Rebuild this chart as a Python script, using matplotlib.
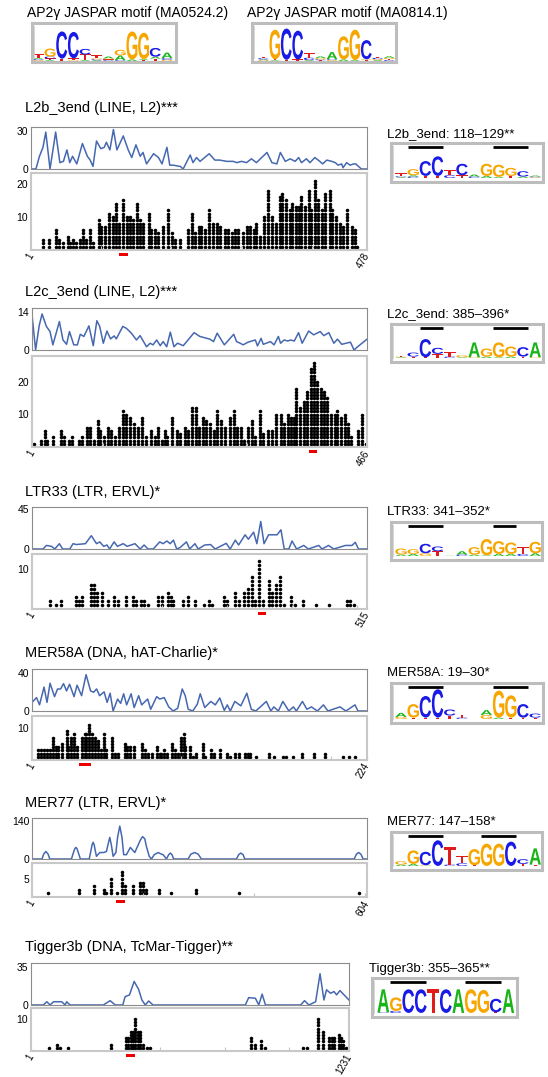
import numpy as np
import matplotlib
matplotlib.use("Agg")
import matplotlib.pyplot as plt
from matplotlib.patches import Rectangle, PathPatch
from matplotlib.textpath import TextPath
from matplotlib.font_manager import FontProperties
import matplotlib.transforms as mtransforms

plt.rcParams['font.family'] = ['Liberation Sans', 'DejaVu Sans']

# ---------------- data ----------------
lengths = [478, 466, 515, 224, 604, 1231]
titles = ["L2b_3end (LINE, L2)***", "L2c_3end (LINE, L2)***", "LTR33 (LTR, ERVL)*",
          "MER58A (DNA, hAT-Charlie)*", "MER77 (LTR, ERVL)*", "Tigger3b (DNA, TcMar-Tigger)**"]
logo_titles = ["L2b_3end: 118\u2013129**", "L2c_3end: 385\u2013396*", "LTR33: 341\u2013352*",
               "MER58A: 19\u201330*", "MER77: 147\u2013158*", "Tigger3b: 355\u2013365**"]
line_ticks = [30, 14, 45, 40, 140, 35]
dot_ticks = [[10, 20], [10, 20], [10], [10], [5], [10]]

# hit positions along the consensus and number of hits per position
l2b_pos = [18, 26, 36, 41, 47, 53, 56, 60, 65, 70, 75, 79, 85, 89, 97, 101, 106, 112, 117, 122,
           126, 132, 137, 142, 146, 151, 156, 160, 168, 172, 177, 182, 188, 196, 201, 205, 213, 224, 229, 234,
           239, 243, 248, 254, 259, 265, 269, 276, 281, 286, 291, 295, 302, 307, 312, 317, 321, 326, 332, 338,
           343, 349, 354, 358, 363, 368, 372, 377, 382, 385, 390, 395, 399, 404, 409, 414, 418, 425, 429, 434,
           439, 444, 449, 456, 461, 464]
l2b_cnt = [3, 3, 6, 3, 2, 4, 2, 3, 2, 3, 6, 3, 6, 2, 9, 7, 7, 11, 10, 14,
           8, 15, 10, 10, 9, 14, 9, 8, 11, 6, 6, 5, 7, 12, 5, 3, 3, 6, 11, 5,
           7, 7, 6, 12, 8, 8, 7, 6, 6, 5, 6, 6, 5, 7, 7, 6, 8, 4, 10, 18,
           10, 8, 16, 17, 15, 12, 14, 13, 13, 16, 13, 18, 12, 21, 15, 12, 17, 18, 12, 10,
           8, 7, 12, 7, 6, 1]
l2c_pos = [4, 13, 19, 22, 30, 41, 46, 52, 57, 66, 71, 77, 82, 87, 92, 96, 101, 107, 111, 116,
           122, 127, 132, 137, 143, 148, 154, 159, 166, 172, 176, 182, 185, 189, 195, 202, 206, 213, 218, 223,
           229, 233, 239, 243, 248, 253, 258, 263, 269, 276, 281, 286, 291, 295, 301, 306, 311, 317, 322, 328,
           334, 340, 346, 351, 356, 360, 364, 368, 373, 378, 383, 388, 393, 397, 402, 407, 411, 416, 421, 425,
           430, 435, 439, 444, 453, 459, 464]
l2c_cnt = [1, 2, 5, 2, 3, 5, 3, 2, 3, 2, 3, 6, 6, 2, 8, 5, 3, 6, 5, 3,
           6, 11, 10, 9, 7, 6, 9, 3, 5, 3, 6, 2, 5, 3, 9, 5, 4, 6, 5, 12,
           12, 6, 9, 8, 7, 5, 11, 8, 6, 9, 11, 6, 6, 2, 6, 8, 3, 11, 4, 5,
           5, 10, 10, 7, 10, 9, 9, 18, 12, 14, 17, 24, 26, 20, 18, 17, 15, 10, 10, 11,
           9, 10, 7, 3, 5, 10, 1]
ltr33_pos = [29, 38, 46, 68, 73, 78, 91, 96, 101, 108, 118, 127, 133, 145, 156, 161, 169, 173, 179, 195,
             200, 209, 214, 218, 232, 241, 251, 265, 272, 277, 295, 300, 313, 318, 326, 332, 338, 343, 350, 356,
             364, 369, 376, 382, 388, 398, 405, 417, 437, 456, 484, 489, 495]
ltr33_cnt = [2, 1, 2, 3, 2, 3, 6, 6, 4, 4, 2, 3, 2, 3, 3, 2, 2, 2, 1, 3,
             3, 4, 3, 2, 2, 3, 2, 1, 2, 1, 3, 2, 4, 2, 4, 5, 8, 2, 12, 2,
             7, 4, 6, 8, 1, 3, 1, 2, 1, 1, 2, 2, 1]
mer58a_pos = [5, 7, 9, 11, 13, 15, 17, 18, 21, 24, 25, 27, 29, 31, 34, 36, 37, 39, 41, 43,
              45, 47, 49, 50, 54, 56, 58, 63, 64, 66, 69, 74, 76, 78, 81, 84, 86, 87, 89, 91,
              94, 96, 98, 100, 102, 103, 106, 108, 110, 115, 116, 120, 122, 126, 131, 133, 136, 139, 143, 145,
              146, 150, 159, 162, 168, 170, 175, 181, 189, 196, 208, 212, 216]
mer58a_cnt = [3, 3, 3, 3, 3, 7, 4, 4, 5, 9, 4, 7, 8, 4, 7, 8, 8, 11, 8, 7,
              6, 3, 8, 3, 7, 2, 2, 5, 4, 4, 4, 5, 3, 2, 2, 4, 2, 2, 3, 2,
              5, 3, 2, 7, 8, 4, 4, 1, 2, 5, 1, 3, 2, 3, 2, 1, 2, 2, 2, 2,
              2, 1, 2, 1, 1, 1, 1, 2, 2, 2, 1, 1, 1]
mer77_pos = [29, 85, 112, 130, 135, 144, 154, 163, 168, 183, 195, 201, 207, 230, 251, 296, 374, 589]
mer77_cnt = [1, 2, 3, 2, 1, 5, 1, 7, 3, 3, 4, 4, 2, 2, 1, 2, 1, 1]
tig_pos = [72, 100, 113, 146, 310, 368, 378, 387, 396, 404, 413, 421, 433, 449, 462, 852, 869, 889, 905, 1054,
           1069, 1112, 1131, 1153, 1164, 1173, 1192, 1201, 1209, 1221]
tig_cnt = [1, 2, 1, 1, 2, 4, 4, 6, 6, 10, 6, 6, 2, 1, 1, 4, 2, 3, 1, 1,
           1, 10, 6, 4, 4, 4, 5, 4, 3, 1]

# smoothed conservation profile (position, value)
l2b_lx = [1, 8, 13, 18, 22, 28, 33, 36, 42, 47, 52, 56, 60, 66, 74, 81, 85, 89, 94, 100,
          105, 108, 113, 118, 123, 132, 139, 144, 150, 156, 160, 165, 175, 182, 187, 194, 198, 203, 213, 217,
          227, 231, 236, 241, 254, 262, 269, 279, 288, 293, 300, 307, 314, 321, 336, 343, 350, 355, 362, 369,
          376, 381, 385, 392, 397, 404, 411, 415, 421, 428, 433, 437, 442, 444, 449, 454, 459, 462, 466, 470, 478]
l2b_ly = [0, 0, 10, 17, 29, 0, 18, 29, 5, 6, 15, 5, 10, 4, 20, 10, 7, 2, 22, 16,
          17, 21, 15, 31, 15, 26, 15, 9, 19, 10, 13, 4, 12, 9, 4, 17, 3, 3, 2, 0,
          11, 5, 9, 6, 12, 7, 7, 6, 6, 5, 6, 5, 8, 5, 13, 5, 4, 13, 6, 8,
          6, 9, 5, 8, 5, 9, 6, 4, 7, 6, 5, 3, 4, 1, 5, 3, 4, 4, 2, 0, 0]
l2c_lx = [1, 6, 11, 15, 21, 26, 30, 39, 44, 49, 53, 59, 64, 68, 73, 80, 86, 91, 95, 100,
          105, 110, 115, 118, 127, 132, 139, 146, 151, 160, 165, 169, 174, 179, 183, 188, 193, 198, 203, 211,
          226, 234, 248, 253, 258, 268, 281, 285, 290, 294, 301, 311, 314, 319, 322, 332, 337, 343, 346, 351,
          356, 360, 365, 371, 376, 385, 392, 401, 406, 413, 420, 425, 431, 443, 448, 453, 466]
l2c_ly = [13, 0, 9, 13.3, 8.7, 6.8, 1.9, 10.5, 3.7, 2.1, 6.8, 1.9, 1.9, 5.8, 5, 8.9, 1.6, 10.8, 8.7, 2.5,
          7, 4.1, 5.2, 4.1, 8.7, 8, 6.2, 3.7, 5.3, 1.2, 2.5, 1.9, 3.7, 1.6, 3.1, 1.2, 6.6, 1.2, 2.5, 1.6,
          6.4, 5, 4, 3.1, 6.2, 1.9, 5.8, 3.1, 2.5, 1.9, 2.9, 3.7, 1.5, 4.3, 2.1, 3.1, 1.9, 5, 2.5, 3.7,
          3.3, 3.7, 3.3, 6.4, 2.5, 7, 5.6, 6.8, 5.3, 6.4, 2.5, 4, 2.1, 2.9, 0, 1.2, 4]
ltr33_lx = [1, 18, 23, 31, 36, 43, 48, 59, 64, 69, 83, 92, 100, 105, 111, 116, 120, 127, 132, 141,
            147, 159, 167, 173, 179, 187, 197, 202, 208, 213, 218, 223, 228, 238, 243, 251, 256, 266, 275, 282,
            290, 299, 305, 313, 318, 328, 333, 341, 346, 352, 357, 364, 377, 383, 388, 395, 400, 407, 418, 425,
            441, 446, 456, 464, 482, 492, 497, 502, 515]
ltr33_ly = [0, 0, 4, 3, 0, 6, 0, 0, 6, 5, 6, 15, 6, 8, 3, 4.5, 0, 8, 3, 6,
            3, 6, 0, 4.5, 0, 0, 8, 6, 9, 6, 10, 0, 1.5, 8, 0, 6, 0, 4.5, 5, 0,
            3, 6.4, 0, 10, 4.5, 16, 11, 19, 6, 31, 6, 16, 16, 21.6, 0, 0, 9, 0, 4, 0,
            4, 0, 4, 0, 4, 4, 7.5, 0, 0]
mer58a_lx = [1, 4, 6, 9, 11, 13, 16, 18, 20, 22, 24, 26, 29, 31, 34, 37, 40, 42, 44, 46,
             49, 51, 53, 55, 58, 60, 62, 64, 67, 69, 72, 74, 78, 80, 84, 86, 89, 92, 95, 98,
             101, 103, 105, 108, 111, 113, 116, 120, 123, 126, 129, 131, 133, 136, 140, 144, 147, 150, 157, 160,
             162, 165, 168, 172, 175, 177, 181, 184, 187, 191, 195, 198, 206, 210, 216, 218, 224]
mer58a_ly = [9, 14, 6.4, 25, 9, 29, 15, 23, 23, 28.6, 21, 28, 15, 27, 16, 38, 21, 19.6, 23, 16,
             20, 9, 18.6, 0, 12.5, 8, 18, 6.4, 18, 3.6, 16, 6.4, 12.5, 1.8, 15, 12.5, 14, 4.3, 0, 2.9,
             23, 16, 1.8, 0, 7, 18, 3.6, 10, 6.4, 13.6, 0.7, 6.4, 0, 10, 5.4, 18.6, 1.8, 0, 10, 0,
             4.3, 0, 10, 0, 4.3, 0, 10, 1.8, 4.3, 0, 6.4, 0, 4.3, 0, 6.4, 0, 0]
mer77_lx = [1, 19, 22, 26, 30, 33, 72, 75, 78, 80, 82, 85, 88, 104, 107, 109, 111, 113, 115, 117,
            123, 130, 135, 138, 141, 144, 147, 152, 155, 159, 163, 166, 171, 178, 186, 196, 200, 204, 207, 212,
            216, 221, 228, 234, 237, 243, 247, 250, 253, 256, 282, 287, 294, 300, 306, 369, 373, 377, 381, 384,
            581, 585, 589, 593, 597, 604]
mer77_ly = [0, 0, 18, 28, 18, 0, 0, 20, 38, 43, 38, 20, 0, 0, 30, 52, 62, 52, 30, 10,
            24, 24, 28, 55, 80, 50, 10, 24, 80, 122, 80, 16, 16, 43, 24, 70, 83, 75, 46, 10,
            0, 16, 24, 18, 16, 0, 16, 22, 16, 0, 0, 18, 24, 18, 0, 0, 16, 22, 16, 0,
            0, 18, 24, 18, 0, 0]
tig_lx = [1, 49, 62, 75, 88, 120, 133, 139, 152, 281, 307, 327, 356, 365, 382, 400, 417, 430, 443, 456,
          473, 830, 843, 869, 882, 895, 908, 1044, 1059, 1076, 1102, 1119, 1134, 1144, 1160, 1173, 1183, 1196, 1212, 1231]
tig_ly = [0, 0, 3, 0, 3, 3, 0, 3, 0, 0, 4, 0, 0, 7.7, 9.3, 21.7, 14.5, 4.6, 0, 3.7,
          0, 0, 6.8, 6.2, 0, 10, 0, 0, 4, 0, 3, 28.8, 4.6, 14, 10.8, 12.4, 9.3, 13.3, 9.3, 4.6]

# red marker under the dot plots (start, end along consensus)
site_marks = [(126, 138), (385, 396), (347, 360), (32, 40), (152, 169), (368, 404)]

# sequence logos: each column stacked bottom -> top as (base, height)
logo_ma0524 = [[('G', .06), ('C', .06), ('A', .06), ('T', .25)],
               [('A', .06), ('T', .1), ('C', .12), ('G', .5)],
               [('T', .15), ('C', 1.7)],
               [('G', .05), ('T', .12), ('C', 1.65)],
               [('A', .06), ('T', .35), ('C', .35)],
               [('A', .05), ('C', .06), ('G', .06), ('T', .2)],
               [('C', .05), ('T', .05), ('G', .06), ('A', .12)],
               [('C', .05), ('A', .3), ('G', .35)],
               [('A', .1), ('G', 1.75)],
               [('T', .06), ('A', .06), ('G', 1.65)],
               [('T', .15), ('A', .12), ('C', .55)],
               [('G', .08), ('C', .1), ('A', .35)]]
logo_ma0814 = [[('G', .05), ('A', .05), ('C', .08), ('T', .1)],
               [('A', .05), ('T', .06), ('G', 1.85)],
               [('T', .08), ('C', 1.95)],
               [('T', .1), ('C', 1.8)],
               [('A', .06), ('C', .15), ('T', .3)],
               [('T', .05), ('C', .06), ('G', .08), ('A', .1)],
               [('G', .06), ('C', .05), ('A', .45)],
               [('A', .1), ('G', 1.45)],
               [('A', .06), ('G', 1.9)],
               [('T', .06), ('G', .05), ('C', 1.2)],
               [('A', .06), ('G', .06), ('C', .08), ('T', .08)],
               [('C', .06), ('T', .06), ('G', .08), ('A', .1)]]
logo_l2b = [[('A', .06), ('C', .06), ('T', .25)],
            [('C', .1), ('A', .1), ('G', .45)],
            [('T', .15), ('C', 1.1)],
            [('T', .15), ('C', 1.45)],
            [('C', .2), ('T', .4)],
            [('T', .2), ('C', .85)],
            [('C', .1), ('A', .15)],
            [('A', .15), ('G', .9)],
            [('A', .08), ('G', .9)],
            [('T', .15), ('G', .6)],
            [('A', .1), ('C', .4)],
            [('G', .05), ('C', .05), ('A', .08)]]
logo_l2c = [[('A', .05), ('G', .05), ('T', .08)],
            [('T', .1), ('C', .3)],
            [('T', .05), ('C', 1.35)],
            [('T', .3), ('C', .45)],
            [('C', .1), ('T', .35)],
            [('A', .05), ('G', .15)],
            [('G', .05), ('A', 1.1)],
            [('A', .1), ('G', .6)],
            [('A', .05), ('G', 1.1)],
            [('A', .1), ('G', .75)],
            [('T', .1), ('C', .7)],
            [('G', .05), ('A', 1.1)]]
logo_ltr33 = [[('A', .1), ('G', .45)],
              [('A', .15), ('G', .35)],
              [('G', .2), ('C', .7)],
              [('T', .35), ('C', .35)],
              [('A', .02)],
              [('C', .1), ('A', .25)],
              [('A', .1), ('G', .55)],
              [('A', .05), ('G', 1.2)],
              [('A', .15), ('G', .95)],
              [('A', .15), ('G', .85)],
              [('C', .15), ('T', .55)],
              [('A', .2), ('G', .85)]]
logo_mer58a = [[('G', .15), ('A', .3)],
               [('T', .1), ('G', 1.0)],
               [('T', .1), ('C', 1.6)],
               [('T', .1), ('C', 2.1)],
               [('T', .25), ('C', .45)],
               [('C', .1), ('T', .2)],
               [],
               [('G', .3), ('A', .35)],
               [('A', .1), ('G', 2.0)],
               [('T', .1), ('G', 1.65)],
               [('T', .1), ('C', 1.0)],
               [('T', .1), ('C', .3)]]
logo_mer77 = [[('A', .1), ('G', .25)],
              [('A', .15), ('G', 1.0)],
              [('G', .05), ('C', 1.0)],
              [('C', 1.9)],
              [('C', .1), ('T', 1.3)],
              [('C', .2), ('T', .55)],
              [('T', .05), ('G', 1.2)],
              [('G', 1.65)],
              [('G', 1.65)],
              [('C', 1.8)],
              [('T', .15), ('C', .35)],
              [('T', .1), ('A', 1.2)]]
logo_tig = [[('C', .05), ('A', 1.7)],
            [('C', .15), ('G', 1.0)],
            [('C', 1.75)],
            [('C', 1.75)],
            [('T', 1.75)],
            [('C', 1.75)],
            [('A', 1.75)],
            [('G', 1.75)],
            [('G', 1.7)],
            [('T', .05), ('C', 1.0)],
            [('A', 1.75)]]
logo_bars = [[(2, 4), (9, 11)], [(3, 4), (9, 11)], [(2, 4), (9, 10)],
             [(2, 4), (9, 11)], [(2, 4), (8, 10)], [(2, 4), (8, 10)]]

# ---------------- drawing ----------------
W, H = 548, 1077
fig = plt.figure(figsize=(W / 100, H / 100), dpi=100)

BASE_COLORS = {'A': '#19b419', 'C': '#1a1ae6', 'G': '#f7a600', 'T': '#e01b1b'}
LOGO_FONT = FontProperties(family='Liberation Sans', weight='bold')
GLYPHS = {b: TextPath((0, 0), b, size=1, prop=LOGO_FONT) for b in 'ACGT'}
LINE_COLOR = '#4668b0'


def rect(x0, y0, x1, y1):
    return [x0 / W, 1 - y1 / H, (x1 - x0) / W, (y1 - y0) / H]


def draw_letter(ax, base, x, y, w, h):
    path = GLYPHS[base]
    ext = path.get_extents()
    tr = (mtransforms.Affine2D().translate(-ext.x0, -ext.y0)
          .scale(w / ext.width, h / ext.height).translate(x - w / 2, y))
    ax.add_patch(PathPatch(tr.transform_path(path), fc=BASE_COLORS[base], ec='none'))


def draw_logo(box, cols, xlim, ylim, bars=(), bar_y=None):
    ax = fig.add_axes(rect(*box))
    for i, col in enumerate(cols, start=1):
        y = 0
        for base, h in col:
            draw_letter(ax, base, i, y, 0.94, h)
            y += h
    for a, b in bars:
        ax.plot([a - 0.45, b + 0.45], [bar_y, bar_y], color='k', lw=2, solid_capstyle='butt')
    ax.plot([0.015, 0.015], [0.1, 0.92], transform=ax.transAxes, color='#cfcfcf', lw=0.6)
    ax.set_xlim(*xlim)
    ax.set_ylim(*ylim)
    ax.set_xticks([])
    ax.set_yticks([])
    for s in ax.spines.values():
        s.set_color('#bdbdbd')
        s.set_linewidth(2.2)
    return ax


# top JASPAR logos
fig.text(27 / W, 1 - 13 / H, "AP2\u03b3 JASPAR motif (MA0524.2)", fontsize=10, va='center')
fig.text(247 / W, 1 - 13 / H, "AP2\u03b3 JASPAR motif (MA0814.1)", fontsize=10, va='center')
draw_logo((32, 23, 176, 62), logo_ma0524, (0.46, 12.77), (-0.06, 2.38))
draw_logo((252, 23, 396, 62), logo_ma0814, (0.0, 12.6), (-0.06, 2.38))

line_data = [(l2b_lx, l2b_ly), (l2c_lx, l2c_ly), (ltr33_lx, ltr33_ly),
             (mer58a_lx, mer58a_ly), (mer77_lx, mer77_ly), (tig_lx, tig_ly)]
dot_data = [(l2b_pos, l2b_cnt), (l2c_pos, l2c_cnt), (ltr33_pos, ltr33_cnt),
            (mer58a_pos, mer58a_cnt), (mer77_pos, mer77_cnt), (tig_pos, tig_cnt)]
logos = [logo_l2b, logo_l2c, logo_ltr33, logo_mer58a, logo_mer77, logo_tig]

# panel geometry in pixels
layout = [
    dict(ty=108, line=(31, 127, 367, 169), dot=(31, 173, 367, 250), lmax=33, dmax=23.3,
         xt=[100, 200, 300, 400], logo=(391, 143, 543, 182), lty=134, ltx=387),
    dict(ty=292, line=(32, 308, 367, 350), dot=(32, 356, 367, 447), lmax=15.5, dmax=28,
         xt=[100, 200, 300, 400], logo=(391, 324, 543, 362), lty=314, ltx=387),
    dict(ty=492, line=(32, 507, 367, 549), dot=(32, 554, 367, 609), lmax=47.3, dmax=13.7,
         xt=[200, 300, 400, 500], logo=(391, 522, 542, 560), lty=512, ltx=387),
    dict(ty=653, line=(32, 669, 367, 711), dot=(32, 716, 367, 760), lmax=43.9, dmax=13.7,
         xt=[100, 200], logo=(391, 683, 543, 723), lty=673, ltx=387),
    dict(ty=803, line=(32, 818, 367, 859), dot=(32, 863, 367, 897), lmax=152, dmax=9.4,
         xt=[200, 400, 600], logo=(391, 832, 542, 870), lty=822, ltx=387),
    dict(ty=947, line=(31, 963, 349, 1005), dot=(31, 1008, 349, 1051), lmax=38.7, dmax=13.4,
         xt=[500, 750, 1000], logo=(372, 978, 517, 1017), lty=969, ltx=369),
]

for k, g in enumerate(layout):
    n = lengths[k]
    fig.text(25 / W, 1 - g['ty'] / H, titles[k], fontsize=10.5, va='center')

    # conservation profile
    axl = fig.add_axes(rect(*g['line']))
    lx, ly = line_data[k]
    axl.plot(lx, ly, color=LINE_COLOR, lw=1.1, solid_joinstyle='round')
    axl.set_xlim(1, n)
    axl.set_ylim(0, g['lmax'])
    axl.set_xticks([])
    axl.set_yticks([0, line_ticks[k]])
    axl.tick_params(axis='y', length=0, labelsize=7.5, pad=2)
    for s in axl.spines.values():
        s.set_color('#8c8c8c')
        s.set_linewidth(0.8)

    # motif hits as stacked dots
    axd = fig.add_axes(rect(*g['dot']))
    pos, cnt = dot_data[k]
    xs = np.repeat(pos, cnt)
    ys = np.concatenate([np.arange(1, c + 1) for c in cnt])
    axd.scatter(xs, ys, s=6.5, c='k', linewidths=0)
    axd.set_xlim(1, n)
    axd.set_ylim(0, g['dmax'])
    axd.set_yticks(dot_ticks[k])
    axd.set_xticks([1] + g['xt'] + [n])
    axd.set_xticklabels([])
    axd.tick_params(axis='y', length=0, labelsize=7.5, pad=2)
    axd.tick_params(axis='x', length=3, direction='in', color='#c4c4c4', width=0.8)
    for s in axd.spines.values():
        s.set_color('#c8c8c8')
        s.set_linewidth(1.5)

    # end labels
    hpx = g['dot'][3] - g['dot'][1]
    for v in (1, n):
        axd.text(v, -4 / hpx, str(v), transform=axd.get_xaxis_transform(), fontsize=7,
                 rotation=60, ha='right', va='center', rotation_mode='anchor')

    # red site marker
    s0, s1 = site_marks[k]
    axd.add_patch(Rectangle((s0, -6 / hpx), s1 - s0, 3.5 / hpx,
                            transform=axd.get_xaxis_transform(), color='#ee0000',
                            clip_on=False, lw=0))

    # logo of the enriched site
    fig.text(g['ltx'] / W, 1 - g['lty'] / H, logo_titles[k], fontsize=9.5, va='center')
    ncol = len(logos[k])
    bx0, by0, bx1, by1 = g['logo']
    step = 12.5 if ncol == 11 else 12.2
    x_left = 1 - (11.3 if ncol == 11 else 10.0) / step
    draw_logo(g['logo'], logos[k], (x_left, x_left + (bx1 - bx0) / step),
              (-0.3, (by1 - by0) / 13.5 - 0.3), logo_bars[k], bar_y=(by1 - by0 - 4) / 13.5 - 0.3)

fig.savefig('out.png', dpi=100)
